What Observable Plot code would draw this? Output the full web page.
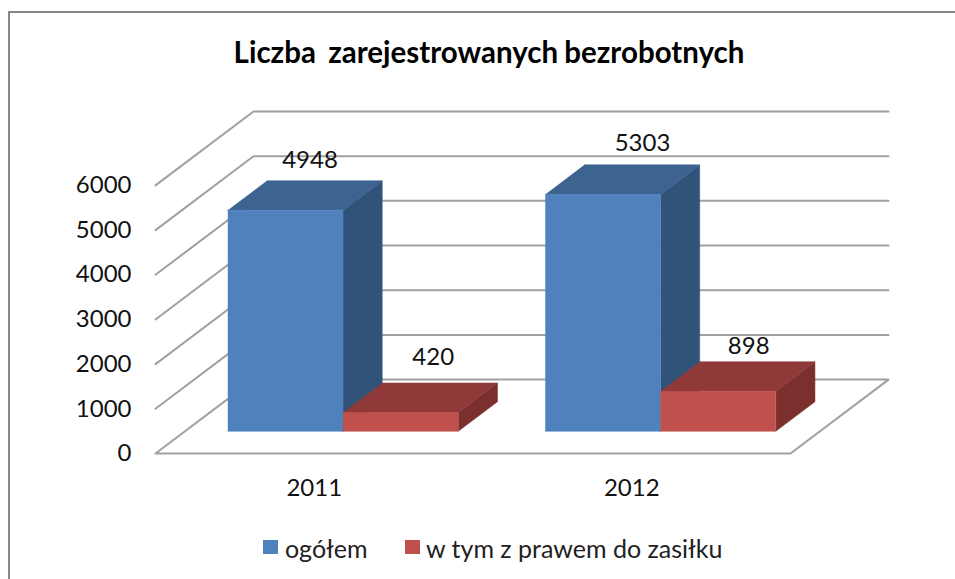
<!DOCTYPE html>
<html lang="pl">
<head>
<meta charset="utf-8">
<script src="https://cdn.jsdelivr.net/npm/d3@7"></script>
<script src="https://cdn.jsdelivr.net/npm/@observablehq/plot@0.6"></script>
<style>
  html, body { margin: 0; padding: 0; background: #fff; overflow: hidden; width: 955px; height: 579px; }
  body { position: relative; font-family: Lato, "Open Sans", sans-serif; color: #111; }
  #frame { position: absolute; left: 8px; top: 11px; width: 1200px; height: 900px; border: 2px solid #868686; box-sizing: border-box; }
  #title { position: absolute; left: 0; width: 978px; top: 34px; text-align: center; font-size: 29.5px; font-weight: 700; line-height: 36px; color: #000; white-space: pre; word-spacing: -1px; }
  #plot { position: absolute; left: 0; top: 100px; }
  .key { position: absolute; top: 540px; width: 15px; height: 14px; }
  .lab { position: absolute; top: 533px; font-size: 25px; line-height: 30px; white-space: pre; color: #222; }
</style>
</head>
<body>
<div id="frame"></div>
<div id="title">Liczba  zarejestrowanych bezrobotnych</div>
<div id="plot"></div>
<div class="key" style="left:263px;background:#4f81bd"></div>
<div class="lab" style="left:285px">ogółem</div>
<div class="key" style="left:405px;background:#c0504d"></div>
<div class="lab" style="left:426px">w tym z prawem do zasiłku</div>
<script>
const categories = ["2011", "2012"];
const ogolem = [4948, 5303];
const zasilek = [420, 898];
const yTicks = [0, 1000, 2000, 3000, 4000, 5000, 6000];

// Oblique depth: one unit of depth moves a point right along x and up along y
const depthX = 0.3087;
const depthY = 1654;
const barW = 0.363, gap = 0.135, d0 = 0.3, d1 = 0.7;
const pt = (x, v, d) => ({x: x + d * depthX, y: v + d * depthY});

const gridStyle = {stroke: "#a0a0a0", strokeWidth: 2};
const gridMarks = yTicks.map(v => Plot.line(
  v === 0
    ? [pt(0, v, 0), pt(2, v, 0), pt(2, v, 1), pt(0, v, 1), pt(0, v, 0)]
    : [pt(0, v, 0), pt(0, v, 1), pt(2, v, 1)],
  {x: "x", y: "y", ...gridStyle}));

const face = (points, color) => Plot.line(points, {x: "x", y: "y", fill: color, stroke: color, strokeWidth: 0.5});

function bar(x, v, [front, top, side]) {
  const a = x, b = x + barW;
  return [
    face([pt(b, 0, d0), pt(b, 0, d1), pt(b, v, d1), pt(b, v, d0)], side),
    face([pt(a, v, d0), pt(b, v, d0), pt(b, v, d1), pt(a, v, d1)], top),
    face([pt(a, 0, d0), pt(b, 0, d0), pt(b, v, d0), pt(a, v, d0)], front)
  ];
}
const blue = ["#4f81bd", "#3d6390", "#325379"];
const red = ["#c0504d", "#8f3938", "#7c302e"];

const barMarks = categories.flatMap((c, i) => [
  ...bar(i + gap, ogolem[i], blue),
  ...bar(i + gap + barW, zasilek[i], red)
]);

const labelShift = {4948: [5, -20], 420: [13, -26], 5303: [20, -22], 898: [11, -15]};
const labelMark = (x, v) => Plot.text([pt(x + barW / 2, v, d1)], {
  x: d => d.x - (d1 - 0.5) * depthX, y: "y", text: () => String(v),
  dx: labelShift[v][0], dy: labelShift[v][1],
  fontSize: 24, fill: "#111", fontFamily: "Lato, sans-serif"
});
const labelMarks = categories.flatMap((c, i) => [
  labelMark(i + gap, ogolem[i]),
  labelMark(i + gap + barW, zasilek[i])
]);

const chart = Plot.plot({
  width: 955, height: 400,
  marginLeft: 155, marginRight: 67, marginTop: 11, marginBottom: 47,
  style: {background: "transparent", fontFamily: "Lato, sans-serif", overflow: "visible"},
  x: {domain: [0, 2 + depthX], axis: null},
  y: {domain: [0, 6000 + depthY], axis: null},
  marks: [
    ...gridMarks,
    ...barMarks,
    ...labelMarks,
    Plot.axisY({ticks: yTicks, tickSize: 0, tickPadding: 24, tickFormat: d => String(d), label: null, fontSize: 24, fill: "#111"}),
    Plot.axisX({ticks: categories.map((c, i) => i + 0.5), tickSize: 0, tickPadding: 25, tickFormat: d => categories[Math.floor(d)], label: null, fontSize: 24, fill: "#111"})
  ]
});
document.getElementById("plot").appendChild(chart);
</script>
</body>
</html>
